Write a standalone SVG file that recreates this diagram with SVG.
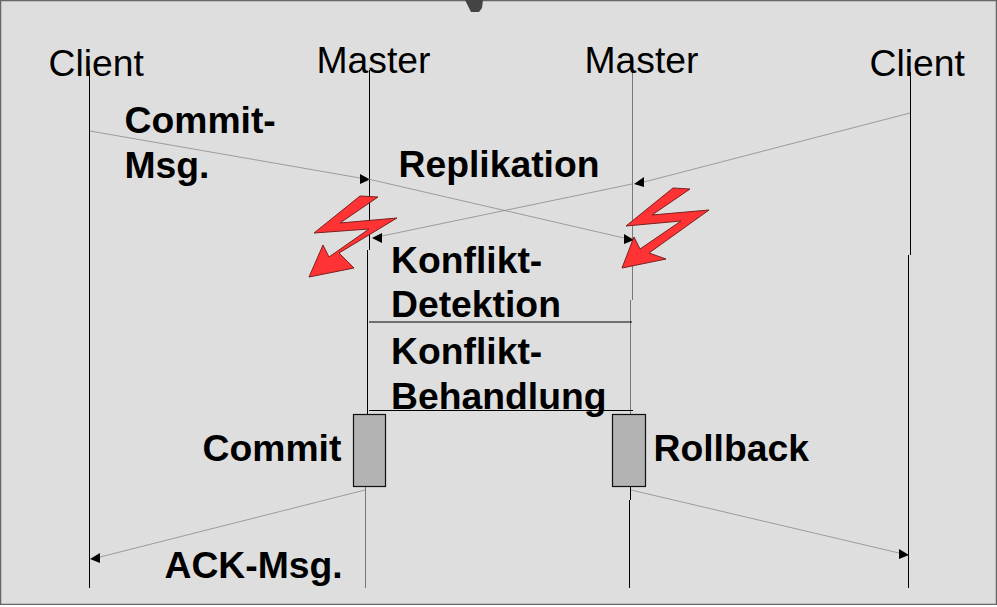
<svg xmlns="http://www.w3.org/2000/svg" width="997" height="607" viewBox="0 0 997 607">
<style>
.t{font-family:"Liberation Sans",Arial,sans-serif;font-size:37.300px;fill:#000}
.b{font-family:"Liberation Sans",Arial,sans-serif;font-size:37.300px;font-weight:bold;fill:#000}
.l{stroke:#000;stroke-width:1;fill:none}
.m{stroke:#777;stroke-width:1;fill:none}
.g{stroke:#8a8a8a;stroke-width:0.800;fill:none}
.bolt{fill:#ff3333;stroke:#7a2020;stroke-width:1;stroke-linejoin:miter}
.box{fill:#b3b3b3;stroke:#111;stroke-width:1.2}
</style>
<rect x="0.5" y="0.5" width="996" height="604" fill="#dedede" stroke="#666" stroke-width="1.5"/>
<rect x="0" y="605" width="997" height="2" fill="#fff"/>
<path d="M465 0H483L482 8L479 12H471Z" fill="#444"/>
<g id="connectors">
<path class="l" d="M89.500 70V588"/>
<path class="l" d="M369.500 70V250M367.500 250V414"/>
<path class="m" d="M365.500 487V588"/>
<path class="m" d="M632.500 72V300M630.500 300V414"/>
<path class="l" d="M630.500 487V500M629.500 500V588"/>
<path class="l" d="M910.500 72V255M908.500 255V588"/>
<path class="g" d="M90 131L360 178"/>
<path d="M370 179.500L360 174V184Z"/>
<path class="g" d="M368 179L624 238"/>
<path d="M634 240L624 234V244Z"/>
<path class="g" d="M910 113L644 182"/>
<path d="M634 184L644 177V187Z"/>
<path class="g" d="M632 184L382 236"/>
<path d="M372 238L382 233V243Z"/>
<path class="l" d="M369 322H632"/>
<path class="l" d="M369 410.500H633"/>
<path class="g" d="M365 490L100 557"/>
<path d="M90 559L100 553V563Z"/>
<path class="g" d="M631 490L899 553"/>
<path d="M909 555L899 549V559Z"/>
</g>
<g id="bolt-left"><polygon class="bolt" points="360,196 378,197 340,223 397,218 339,253 354,268 309,277 323,245 329,257 369,229 314,233"/></g>
<g id="bolt-right"><polygon class="bolt" points="673,188 690,189 652,215 709,210 649,253 666,259 622,268 634,237 640,249 681,221 626,226"/></g>
<g id="box-commit"><rect class="box" x="353.500" y="414.500" width="32" height="72"/></g>
<g id="box-rollback"><rect class="box" x="612.500" y="414.500" width="33" height="72"/></g>
<g id="labels">
<text class="t" x="48.500" y="76">Client</text>
<text class="t" x="316.500" y="72.500">Master</text>
<text class="t" x="584.500" y="72.500">Master</text>
<text class="t" x="869.500" y="76">Client</text>
<text class="b" x="124.500" y="133">Commit-</text>
<text class="b" x="124.500" y="178">Msg.</text>
<text class="b" x="398.500" y="176.500">Replikation</text>
<text class="b" x="391" y="273">Konflikt-</text>
<text class="b" x="391" y="317">Detektion</text>
<text class="b" x="391" y="364">Konflikt-</text>
<text class="b" x="391" y="409">Behandlung</text>
<text class="b" x="202.500" y="461">Commit</text>
<text class="b" x="653.500" y="461">Rollback</text>
<text class="b" x="164.500" y="578">ACK-Msg.</text>
</g>
</svg>
